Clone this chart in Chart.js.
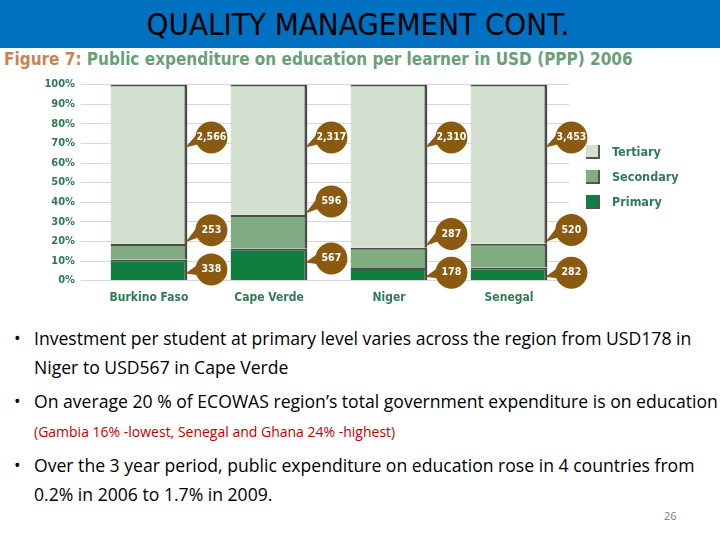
<!DOCTYPE html>
<html><head><meta charset="utf-8">
<script src="https://cdn.jsdelivr.net/npm/chart.js@4/dist/chart.umd.min.js"></script>
<style>
body{margin:0;width:720px;height:540px;position:relative;background:#fff;font-family:"Open Sans",sans-serif;overflow:hidden}
#hdr{position:absolute;left:0;top:0;width:720px;height:48px;background:#0070C0}
#ttl{position:absolute;left:0;width:716px;top:6px;text-align:center;font-family:"DejaVu Sans Condensed","DejaVu Sans",sans-serif;font-size:31px;color:#000}
#fig{position:absolute;left:4px;top:49px;font-family:"DejaVu Sans Condensed",sans-serif;font-weight:bold;font-size:17px;color:#6a9f78}
#fig span{color:#c98452}
#cv{position:absolute;left:45px;top:72px}
.lg{position:absolute;left:586px;font-family:"DejaVu Sans Condensed",sans-serif;font-weight:bold;font-size:12.5px;color:#2f7a52}
.lg i{display:inline-block;width:14px;height:14px;vertical-align:-3px;margin-right:12px;border-right:2px solid #555;border-bottom:2px solid #555;box-sizing:border-box}
ul{position:absolute;left:14px;top:324px;margin:0;padding:0 0 0 20px;width:690px;font-size:17.6px;line-height:29px;color:#000;list-style:none}
li{position:relative;margin-bottom:5px}
li:before{content:"•";position:absolute;left:-20px}
.r{color:#c00000;font-size:14px}
#pg{position:absolute;left:664px;top:508px;font-size:11px;color:#777}
</style></head><body>
<div id="hdr"><div id="ttl">QUALITY MANAGEMENT CONT.</div></div>
<div id="fig"><span>Figure 7:</span> Public expenditure on education per learner in USD (PPP) 2006</div>
<canvas id="cv" width="550" height="235"></canvas>
<div class="lg" style="top:144px"><i style="background:#d3e0cf"></i>Tertiary</div>
<div class="lg" style="top:169px"><i style="background:#80ae82"></i>Secondary</div>
<div class="lg" style="top:194px"><i style="background:#0f7f40"></i>Primary</div>
<ul>
<li>Investment per student at primary level varies across the region from USD178 in Niger to USD567 in Cape Verde</li>
<li>On average 20 % of ECOWAS region’s total government expenditure is on education <span class="r">(Gambia 16% -lowest, Senegal and Ghana 24% -highest)</span></li>
<li>Over the 3 year period, public expenditure on education rose in 4 countries from 0.2% in 2006 to 1.7% in 2009.</li>
</ul>
<div id="pg">26</div>
<script>
const countries=["Burkino Faso","Cape Verde","Niger","Senegal"];
const primary=[338,567,178,282];
const secondary=[253,596,287,520];
const tertiary=[2566,2317,2310,3453];
const yTicks=["0%","10%","20%","30%","40%","50%","60%","70%","80%","90%","100%"];
const totals=countries.map((c,i)=>primary[i]+secondary[i]+tertiary[i]);
const pct=a=>a.map((v,i)=>v/totals[i]*100);
const raw=[primary,secondary,tertiary];
const ds=(label,arr,color)=>({label,data:pct(arr),backgroundColor:color,borderColor:'#4d4d4d',borderWidth:{top:2,right:3},borderSkipped:false,barPercentage:0.64,categoryPercentage:1});
const callouts={id:'callouts',afterDatasetsDraw(ch){
  const c=ch.ctx,y=ch.scales.y;
  ch.data.datasets.forEach((d,di)=>{
    const meta=ch.getDatasetMeta(di);
    meta.data.forEach((b,i)=>{
      const top=primary[i]/totals[i]*100+(di>=1?secondary[i]/totals[i]*100:0);
      let lv;
      if(di===0) lv=Math.max(4,top-5);
      else if(di===1) lv=top+7;
      else lv=73;
      const cx=b.x+b.width/2+24, cy=y.getPixelForValue(lv), r=16;
      const tipY=cy+(di===2?10:di===1?12:4);
      c.save();
      c.fillStyle='#8a5a10';
      c.beginPath();c.moveTo(b.x+b.width/2-2,tipY);c.lineTo(cx-r+4,cy-6);c.lineTo(cx-r+6,cy+6);c.closePath();c.fill();
      c.beginPath();c.arc(cx,cy,r,0,Math.PI*2);c.fill();
      c.fillStyle='#fff';c.font='bold 10.5px "DejaVu Sans Condensed",sans-serif';
      c.textAlign='center';c.textBaseline='middle';
      c.fillText(raw[di][i].toLocaleString('en-US'),cx,cy);
      c.restore();
    });
  });
}};
new Chart(document.getElementById('cv'),{
  type:'bar',
  data:{labels:countries,datasets:[ds('Primary',primary,'#0f7f40'),ds('Secondary',secondary,'#80ae82'),ds('Tertiary',tertiary,'#d3e0cf')]},
  options:{responsive:false,animation:false,
    layout:{padding:{top:11,right:26}},
    plugins:{legend:{display:false},tooltip:{enabled:false}},
    scales:{
      x:{stacked:true,grid:{display:false},border:{display:false},
         ticks:{color:'#2f7a52',font:{family:'"DejaVu Sans Condensed"',weight:'bold',size:12},padding:2}},
      y:{stacked:true,min:0,max:100,afterFit:s=>{s.width=44},
         grid:{color:'#d8d8d8'},border:{display:false},
         ticks:{stepSize:10,color:'#2f7a52',font:{family:'"DejaVu Sans Condensed"',weight:'bold',size:11},padding:6,callback:(v,i)=>yTicks[i]}}
    }},
  plugins:[callouts]
});
</script>
</body></html>
